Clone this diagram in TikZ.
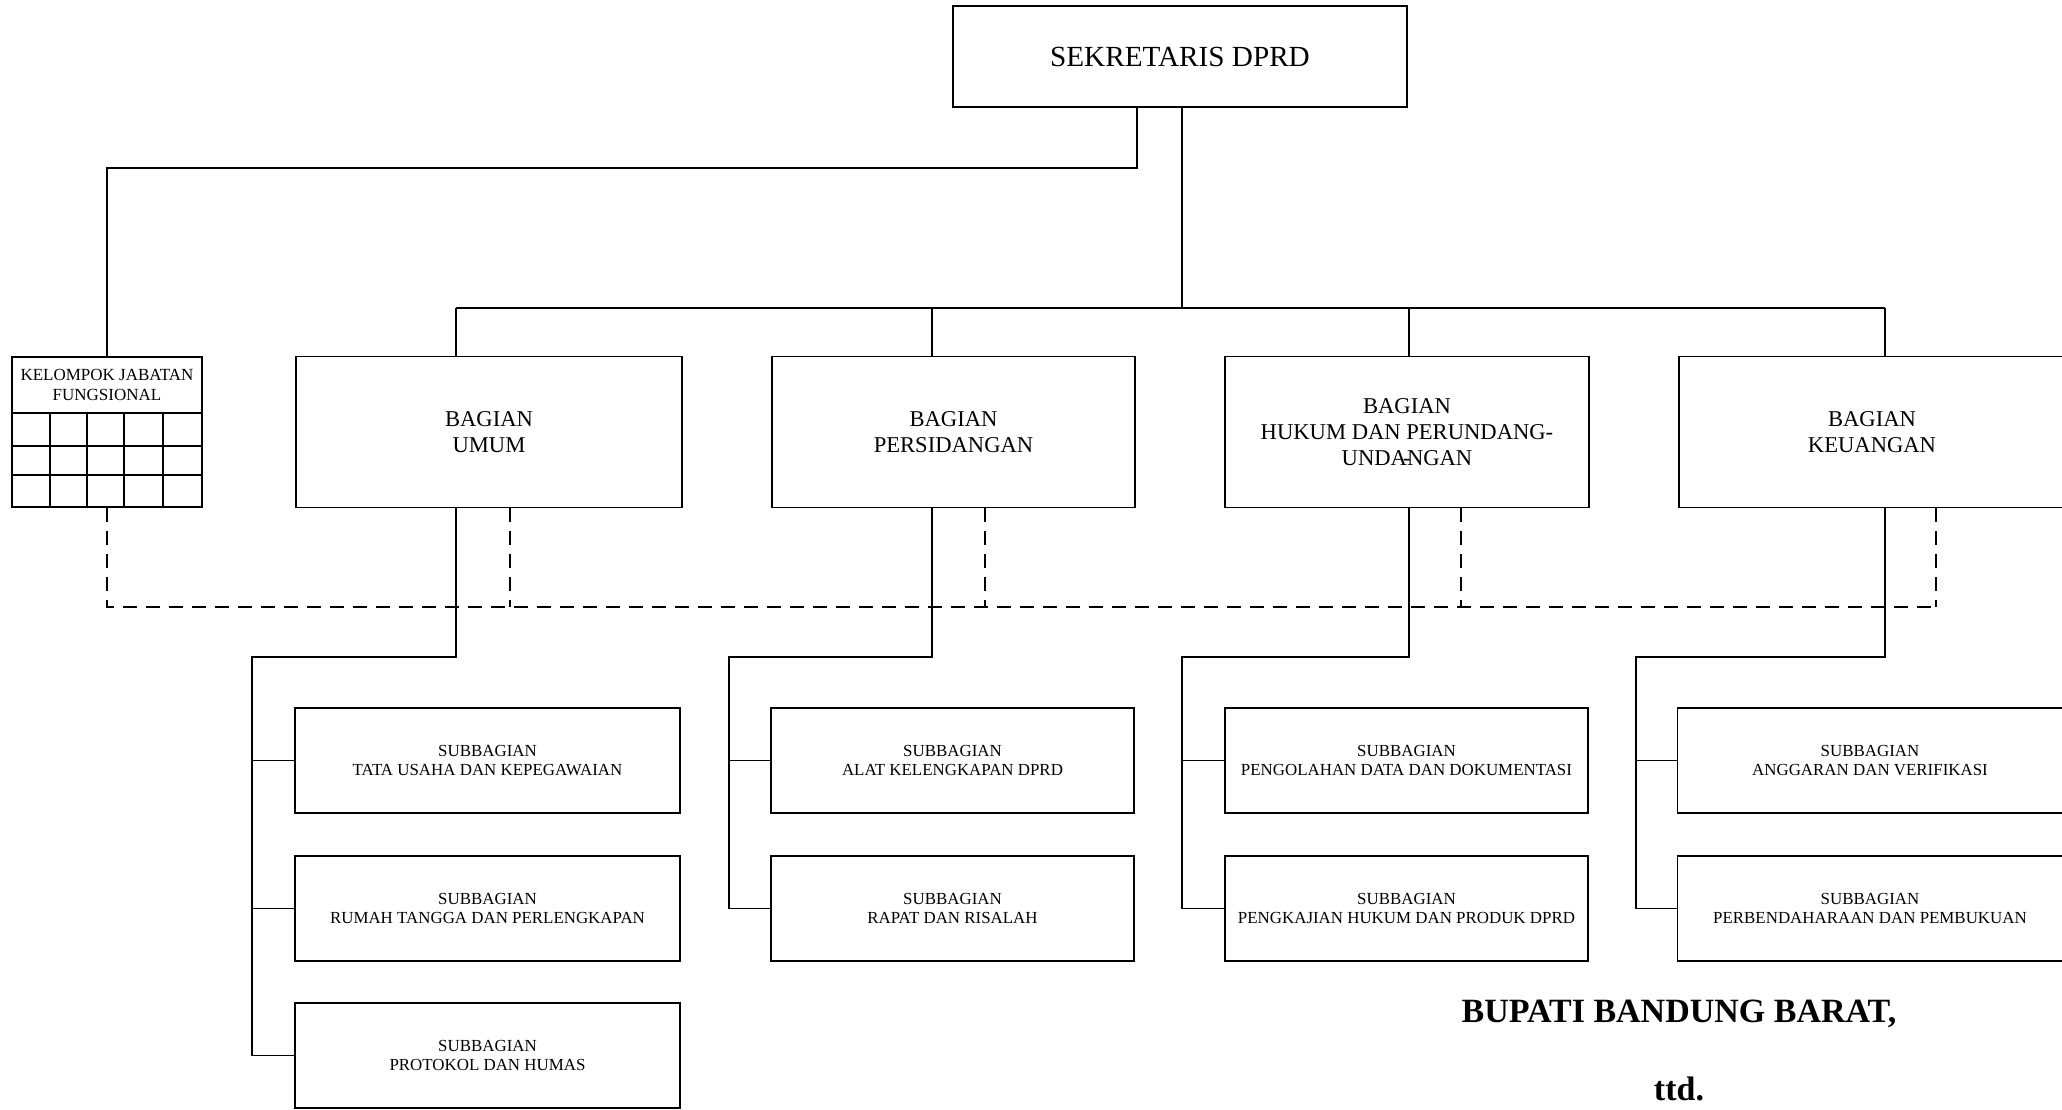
\documentclass[tikz,border=0pt]{standalone}
\usepackage{fontspec}
\setmainfont{Liberation Serif}
\begin{document}
\begin{tikzpicture}[x=1pt,y=-1pt,
  box/.style={draw, rectangle, inner sep=0pt, align=center, line width=1.6pt},
  chief/.style={box, minimum width=454pt, minimum height=101pt, font=\fontsize{29.2}{33}\selectfont},
  dept/.style={box, minimum height=151pt, font=\fontsize{22.6}{26}\selectfont},
  unit/.style={box, minimum height=105pt, font=\fontsize{16.9}{19.5}\selectfont},
  grp/.style={box, minimum width=190pt, font=\fontsize{17}{20}\selectfont},
  link/.style={line width=1.6pt},
  cell/.style={line width=1.6pt},
  coord/.style={line width=1.9pt, dash pattern=on 14pt off 9pt},
  sign/.style={anchor=base, font=\bfseries\fontsize{34}{40}\selectfont}]

\useasboundingbox (0,0) rectangle (2062,1109);
\clip (0,0) rectangle (2062,1109);

% head of office
\node[chief] (sek) at (1180,56.5) {SEKRETARIS DPRD};

% functional group with its grid
\node[grp, minimum height=56pt] (kel) at (107,385) {KELOMPOK JABATAN\\FUNGSIONAL};
\node[grp, minimum height=94pt] (kgrid) at (107,460) {};
\foreach \yy in {446,475} \draw[cell] (12,\yy) -- (202,\yy);
\foreach \xx in {50,87,124,163} \draw[cell] (\xx,413) -- (\xx,507);

% departments
\node[dept, minimum width=386pt] (umum)  at (489,432)    {BAGIAN\\UMUM};
\node[dept, minimum width=363pt] (pers)  at (953.5,432)  {BAGIAN\\PERSIDANGAN};
\node[dept, minimum width=364pt] (hukum) at (1407,432)   {BAGIAN\\HUKUM DAN PERUNDANG-\\UNDA\makebox[0pt]{-}NGAN};
\node[dept, minimum width=386pt] (keu)   at (1872,432)   {BAGIAN\\KEUANGAN};

% sub-units
\node[unit, minimum width=385pt] (u1) at (487.5,760.5)  {SUBBAGIAN\\TATA USAHA DAN KEPEGAWAIAN};
\node[unit, minimum width=385pt] (u2) at (487.5,908.5)  {SUBBAGIAN\\RUMAH TANGGA DAN PERLENGKAPAN};
\node[unit, minimum width=385pt] (u3) at (487.5,1055.5) {SUBBAGIAN\\PROTOKOL DAN HUMAS};
\node[unit, minimum width=363pt] (p1) at (952.5,760.5)  {SUBBAGIAN\\ALAT KELENGKAPAN DPRD};
\node[unit, minimum width=363pt] (p2) at (952.5,908.5)  {SUBBAGIAN\\RAPAT DAN RISALAH};
\node[unit, minimum width=363pt] (h1) at (1406.5,760.5) {SUBBAGIAN\\PENGOLAHAN DATA DAN DOKUMENTASI};
\node[unit, minimum width=363pt] (h2) at (1406.5,908.5) {SUBBAGIAN\\PENGKAJIAN HUKUM DAN PRODUK DPRD};
\node[unit, minimum width=385pt] (k1) at (1870,760.5)   {SUBBAGIAN\\ANGGARAN DAN VERIFIKASI};
\node[unit, minimum width=385pt] (k2) at (1870,908.5)   {SUBBAGIAN\\PERBENDAHARAAN DAN PEMBUKUAN};

% junction points
\coordinate (sk) at (1137,168);
\coordinate (bus) at (1182,308);
\coordinate (bU) at (456,308);
\coordinate (bP) at (932,308);
\coordinate (bH) at (1409,308);
\coordinate (bK) at (1885,308);
\coordinate (jU) at (456,657);
\coordinate (jP) at (932,657);
\coordinate (jH) at (1409,657);
\coordinate (jK) at (1885,657);
\coordinate (rU) at (252,657);
\coordinate (rP) at (729,657);
\coordinate (rH) at (1182,657);
\coordinate (rK) at (1636,657);
\coordinate (dG) at (107,607);
\coordinate (dU) at (510,607);
\coordinate (dP) at (985,607);
\coordinate (dH) at (1461,607);
\coordinate (dK) at (1936,607);

% command lines
\draw[link] (sk |- sek.south) -- (sk) -| (kel.north);
\draw[link] (bus |- sek.south) -- (bus);
\draw[link] (bU) -- (bK);
\draw[link] (bU) -- (bU |- umum.north);
\draw[link] (bP) -- (bP |- pers.north);
\draw[link] (bH) -- (bH |- hukum.north);
\draw[link] (bK) -- (bK |- keu.north);

% coordination lines
\draw[coord] (kgrid.south) -- (dG) -- (dK);
\draw[coord] (dU |- umum.south) -- (dU);
\draw[coord] (dP |- pers.south) -- (dP);
\draw[coord] (dH |- hukum.south) -- (dH);
\draw[coord] (dK |- keu.south) -- (dK);

% department to sub-units
\draw[link] (jU |- umum.south) -- (jU) -- (rU) -- (rU |- u3.west) -- (u3.west);
\draw[link] (rU |- u1.west) -- (u1.west);
\draw[link] (rU |- u2.west) -- (u2.west);
\draw[link] (jP |- pers.south) -- (jP) -- (rP) -- (rP |- p2.west) -- (p2.west);
\draw[link] (rP |- p1.west) -- (p1.west);
\draw[link] (jH |- hukum.south) -- (jH) -- (rH) -- (rH |- h2.west) -- (h2.west);
\draw[link] (rH |- h1.west) -- (h1.west);
\draw[link] (jK |- keu.south) -- (jK) -- (rK) -- (rK |- k2.west) -- (k2.west);
\draw[link] (rK |- k1.west) -- (k1.west);

% signature block
\node[sign] (bup) at (1679,1022) {BUPATI BANDUNG BARAT,};
\node[sign] (ttd) at (1679,1100) {ttd.};
\end{tikzpicture}
\end{document}
